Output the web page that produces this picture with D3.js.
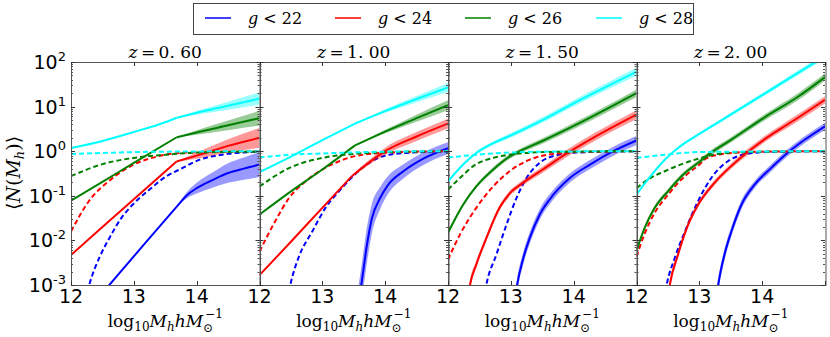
<!DOCTYPE html>
<html>
<head>
<meta charset="utf-8">
<script src="https://d3js.org/d3.v7.min.js"></script>
<style>
  body { margin: 0; background: #fff; }
  svg text { fill: #000; }
</style>
</head>
<body>
<div id="chart"></div>
<script>
// panels, magnitude cuts and colours
var redshifts = ["0. 60", "1. 00", "1. 50", "2. 00"];
var magCuts = [22, 24, 26, 28];
var colours = ["#0000ff", "#ff0000", "#008000", "#00ffff"];
var massTicks = [12, 13, 14];
var decades = [-3, -2, -1, 0, 1, 2];

// solid lines: total <N(M_h)>, rows of [log10 M_h, log10 N, band half width (dex), kink flag]
var total_z060 = [
  [[12.4,-3.35,0],[12.61,-3.0,0],[13.68,-1.25,0,1],[13.85,-0.98,0.07],[14.0,-0.83,0.12],[14.25,-0.65,0.17],[14.5,-0.49,0.22],[14.75,-0.39,0.25],[15.0,-0.30,0.28]],
  [[12.0,-2.33,0],[12.5,-1.70,0],[13.0,-1.08,0],[13.68,-0.23,0,1],[14.0,-0.10,0.07],[14.5,0.12,0.15],[15.0,0.30,0.22]],
  [[12.0,-1.11,0],[12.5,-0.69,0],[13.0,-0.26,0],[13.68,0.31,0,1],[14.0,0.42,0.05],[14.5,0.58,0.11],[15.0,0.74,0.165]],
  [[12.0,0.07,0],[12.5,0.23,0],[13.0,0.43,0],[13.5,0.65,0],[13.68,0.75,0,1],[14.0,0.86,0.04],[14.5,1.02,0.09],[15.0,1.18,0.135]]
];
var total_z100 = [
  [[13.55,-3.6,0.35],[13.62,-3.0,0.4],[13.71,-2.1,0.4],[13.79,-1.5,0.33],[13.92,-1.05,0.25],[14.05,-0.75,0.2],[14.29,-0.45,0.16],[14.63,-0.15,0.14],[15.0,0.07,0.13]],
  [[12.0,-2.78,0],[12.5,-2.03,0],[13.0,-1.27,0],[13.47,-0.56,0.02,1],[13.7,-0.30,0.05],[14.0,0.0,0.08],[14.5,0.33,0.1],[15.0,0.62,0.11]],
  [[12.0,-1.42,0],[12.5,-0.9,0],[13.0,-0.41,0],[13.52,0.13,0,1],[14.0,0.44,0.04],[14.5,0.74,0.08],[15.0,1.03,0.11]],
  [[12.0,-0.47,0],[12.5,-0.12,0],[13.0,0.25,0],[13.52,0.62,0,1],[14.0,0.9,0.04],[14.5,1.17,0.07],[15.0,1.43,0.1]]
];
var total_z150 = [
  [[13.05,-3.5,0.15],[13.1,-3.0,0.15],[13.2,-2.39,0.14],[13.3,-1.95,0.13],[13.46,-1.42,0.12],[13.68,-0.97,0.11],[13.94,-0.6,0.1],[14.26,-0.3,0.1],[14.63,0.0,0.1],[15.0,0.24,0.1]],
  [[12.3,-3.5,0.1],[12.35,-3.0,0.1],[12.45,-2.54,0.08],[12.61,-1.95,0.07],[12.82,-1.27,0.06],[13.01,-0.9,0.06,1],[13.2,-0.7,0.06],[13.52,-0.4,0.07],[13.89,-0.05,0.08],[14.31,0.3,0.09],[15.0,0.82,0.1]],
  [[12.0,-1.83,0.04],[12.24,-1.2,0.04],[12.45,-0.79,0.04],[12.72,-0.41,0.05],[12.98,-0.12,0.05],[13.14,0.0,0.05],[13.52,0.24,0.06],[14.05,0.6,0.07],[15.0,1.3,0.085]],
  [[12.0,-0.68,0.03],[12.24,-0.3,0.03],[12.45,-0.04,0.04],[12.72,0.18,0.04],[12.96,0.33,0.05],[13.52,0.71,0.06],[14.05,1.11,0.07],[15.0,1.78,0.09]]
];
var total_z200 = [
  [[13.25,-3.5,0.15],[13.3,-3.0,0.15],[13.4,-2.32,0.13],[13.51,-1.8,0.11],[13.67,-1.2,0.1],[13.88,-0.75,0.08],[14.14,-0.38,0.08],[14.41,-0.03,0.08],[14.67,0.25,0.08],[15.0,0.56,0.08]],
  [[12.48,-3.5,0.1],[12.53,-3.0,0.1],[12.66,-2.32,0.08],[12.82,-1.65,0.07],[12.98,-1.2,0.06],[13.24,-0.71,0.06],[13.51,-0.33,0.06],[13.75,-0.04,0.07],[14.04,0.27,0.07],[14.57,0.75,0.08],[15.0,1.15,0.08]],
  [[12.0,-2.23,0.05],[12.13,-1.72,0.05],[12.29,-1.27,0.05],[12.5,-0.9,0.05],[12.77,-0.49,0.05],[12.98,-0.26,0.05],[13.16,-0.06,0.06],[13.51,0.26,0.06],[14.04,0.76,0.07],[14.57,1.22,0.08],[15.0,1.66,0.08]],
  [[12.0,-0.97,0.02],[12.24,-0.53,0.02],[12.45,-0.19,0.02],[12.66,0.07,0.03],[12.98,0.37,0.03],[13.51,0.83,0.04],[14.3,1.52,0.05],[15.0,2.13,0.06]]
];

// dashed lines: central galaxies, rows of [log10 M_h, log10 N]
var central_z060 = [
  [[12.2,-3.5],[12.3,-2.95],[12.45,-2.39],[12.61,-1.95],[12.8,-1.5],[12.98,-1.2],[13.25,-0.86],[13.52,-0.56],[13.73,-0.41],[14.05,-0.19],[14.5,-0.06],[15.0,-0.01]],
  [[12.0,-1.8],[12.3,-1.09],[12.62,-0.65],[12.98,-0.31],[13.37,-0.12],[13.84,-0.03],[14.5,-0.01],[15.0,0.0]],
  [[12.0,-0.56],[12.5,-0.29],[13.0,-0.15],[13.5,-0.08],[14.0,-0.03],[15.0,-0.01]],
  [[12.0,-0.06],[12.5,-0.04],[13.0,-0.02],[14.0,-0.005],[15.0,0.0]]
];
var central_z100 = [
  [[12.42,-3.5],[12.49,-3.0],[12.62,-2.39],[12.84,-1.8],[13.05,-1.27],[13.31,-0.83],[13.63,-0.38],[13.89,-0.15],[14.16,-0.06],[14.6,-0.02],[15.0,-0.01]],
  [[12.0,-2.25],[12.25,-1.57],[12.47,-1.05],[12.73,-0.68],[13.0,-0.41],[13.26,-0.23],[13.52,-0.11],[14.05,-0.03],[15.0,0.0]],
  [[12.0,-0.79],[12.47,-0.38],[13.0,-0.15],[13.52,-0.06],[14.05,-0.02],[15.0,0.0]],
  [[12.0,-0.14],[12.5,-0.08],[13.0,-0.05],[14.0,-0.01],[15.0,0.0]]
];
var central_z150 = [
  [[12.55,-3.5],[12.61,-3.0],[12.77,-2.32],[12.93,-1.65],[13.09,-1.05],[13.25,-0.6],[13.46,-0.26],[13.73,-0.09],[14.05,-0.03],[15.0,0.0]],
  [[12.0,-2.43],[12.19,-1.87],[12.45,-1.27],[12.72,-0.79],[12.98,-0.45],[13.3,-0.19],[13.68,-0.06],[14.05,-0.02],[15.0,0.0]],
  [[12.0,-0.86],[12.19,-0.6],[12.45,-0.29],[12.72,-0.15],[13.09,-0.06],[13.5,-0.02],[15.0,0.0]],
  [[12.0,-0.14],[12.45,-0.08],[12.98,-0.03],[13.5,-0.01],[15.0,0.0]]
];
var central_z200 = [
  [[12.42,-3.5],[12.48,-3.0],[12.61,-2.39],[12.77,-1.8],[12.98,-1.12],[13.19,-0.6],[13.46,-0.22],[13.72,-0.07],[14.05,-0.02],[15.0,0.0]],
  [[12.0,-2.36],[12.13,-1.85],[12.29,-1.38],[12.5,-0.98],[12.77,-0.56],[12.9,-0.41],[12.98,-0.33],[13.1,-0.17],[13.3,-0.08],[13.6,-0.03],[14.0,-0.01],[15.0,0.0]],
  [[12.0,-0.83],[12.2,-0.62],[12.45,-0.45],[12.7,-0.3],[12.98,-0.17],[13.3,-0.06],[13.7,-0.02],[15.0,0.0]],
  [[12.0,-0.15],[12.45,-0.08],[12.98,-0.02],[15.0,0.0]]
];

var totals = [total_z060, total_z100, total_z150, total_z200];
var centrals = [central_z060, central_z100, central_z150, central_z200];

var width = 830;
var height = 337;
var plotLeft = 71, plotTop = 62, plotBottom = 285;
var panelWidth = 188.5;

// split a series into smooth pieces at flagged kinks
function pieces(rows) {
  var out = [[]];
  rows.forEach(function(r) {
    out[out.length - 1].push(r);
    if (r[3]) out.push([r]);
  });
  return out;
}

var svg = d3.select("#chart")
  .append("svg")
  .attr("width", width)
  .attr("height", height);

var y = d3.scaleLog().domain([1e-3, 1e2]).range([plotBottom, plotTop]);

// legend
var legend = svg.append("g");
legend.append("rect")
  .attr("x", 193.5).attr("y", 3.5)
  .attr("width", 500).attr("height", 31)
  .attr("fill", "#fff")
  .attr("stroke", "#444");
var legendX = [205, 335, 465, 596];
magCuts.forEach(function(m, i) {
  legend.append("line")
    .attr("x1", legendX[i]).attr("x2", legendX[i] + 26)
    .attr("y1", 18).attr("y2", 18)
    .attr("stroke", colours[i])
    .attr("stroke-width", 1.5);
  var t = legend.append("text")
    .attr("x", legendX[i] + 43).attr("y", 24)
    .style("font-family", "DejaVu Serif")
    .style("font-size", "16px");
  t.append("tspan").style("font-style", "italic").text("g");
  t.append("tspan").text(" < " + m);
});

redshifts.forEach(function(zLabel, p) {
  var x0 = plotLeft + p * panelWidth;
  var x = d3.scaleLinear().domain([12, 15]).range([x0, x0 + panelWidth]);
  var g = svg.append("g");

  var clipId = "clip" + p;
  svg.append("clipPath").attr("id", clipId)
    .append("rect")
    .attr("x", x0).attr("y", plotTop)
    .attr("width", panelWidth).attr("height", plotBottom - plotTop);

  var plot = g.append("g").attr("clip-path", "url(#" + clipId + ")");

  var line = d3.line()
    .x(function(d) { return x(d[0]); })
    .y(function(d) { return y(Math.pow(10, d[1])); })
    .curve(d3.curveMonotoneX);

  var band = d3.area()
    .x(function(d) { return x(d[0]); })
    .y0(function(d) { return y(Math.pow(10, d[1] - d[2])); })
    .y1(function(d) { return y(Math.pow(10, d[1] + d[2])); })
    .curve(d3.curveMonotoneX);

  magCuts.forEach(function(m, i) {
    var parts = pieces(totals[p][i]);
    parts.forEach(function(part) {
      plot.append("path")
        .attr("d", band(part))
        .attr("fill", colours[i])
        .attr("fill-opacity", 0.4)
        .attr("stroke", "none");
    });
    parts.forEach(function(part) {
      plot.append("path")
        .attr("d", line(part))
        .attr("fill", "none")
        .attr("stroke", colours[i])
        .attr("stroke-width", 2)
        .attr("stroke-linejoin", "round");
    });
    plot.append("path")
      .attr("d", line(centrals[p][i]))
      .attr("fill", "none")
      .attr("stroke", colours[i])
      .attr("stroke-width", 2)
      .attr("stroke-dasharray", "5,3");
  });

  // frame
  g.append("rect")
    .attr("x", Math.round(x0) + 0.5).attr("y", plotTop + 0.5)
    .attr("width", panelWidth).attr("height", plotBottom - plotTop)
    .attr("fill", "none")
    .attr("stroke", "#555")
    .attr("stroke-width", 1);

  // x ticks (top and bottom, inside)
  [12, 13, 14, 15].forEach(function(v) {
    var px = Math.round(x(v)) + 0.5;
    g.append("line").attr("x1", px).attr("x2", px).attr("y1", plotBottom).attr("y2", plotBottom - 4).attr("stroke", "#333");
    g.append("line").attr("x1", px).attr("x2", px).attr("y1", plotTop).attr("y2", plotTop + 4).attr("stroke", "#333");
  });
  massTicks.forEach(function(v) {
    g.append("text")
      .attr("x", x(v)).attr("y", plotBottom + 18)
      .attr("text-anchor", "middle")
      .style("font-family", "DejaVu Sans")
      .style("font-size", "19px")
      .text(v);
  });

  // y ticks, major and minor, on both sides
  var yMinor = [];
  decades.slice(0, -1).forEach(function(e) {
    for (var k = 2; k <= 9; k++) yMinor.push(k * Math.pow(10, e));
  });
  decades.forEach(function(e) {
    var py = Math.round(y(Math.pow(10, e))) + 0.5;
    g.append("line").attr("x1", x0).attr("x2", x0 + 4).attr("y1", py).attr("y2", py).attr("stroke", "#333");
    g.append("line").attr("x1", x0 + panelWidth).attr("x2", x0 + panelWidth - 4).attr("y1", py).attr("y2", py).attr("stroke", "#333");
  });
  yMinor.forEach(function(v) {
    var py = Math.round(y(v)) + 0.5;
    g.append("line").attr("x1", x0).attr("x2", x0 + 2).attr("y1", py).attr("y2", py).attr("stroke", "#555");
    g.append("line").attr("x1", x0 + panelWidth).attr("x2", x0 + panelWidth - 2).attr("y1", py).attr("y2", py).attr("stroke", "#555");
  });

  // title
  var title = g.append("text")
    .attr("x", x0 + panelWidth / 2).attr("y", 58)
    .attr("text-anchor", "middle")
    .style("font-family", "DejaVu Serif")
    .style("font-size", "17px");
  title.append("tspan").style("font-style", "italic").text("z");
  title.append("tspan").text("\u2009=\u2009" + zLabel);

  // x label
  var xl = g.append("text")
    .attr("x", x0 + panelWidth / 2).attr("y", 327)
    .attr("text-anchor", "middle")
    .style("font-family", "DejaVu Serif")
    .style("font-size", "17px");
  xl.append("tspan").text("log");
  xl.append("tspan").attr("dy", 4).style("font-size", "12px").text("10");
  xl.append("tspan").attr("dy", -4).style("font-style", "italic").text("M");
  xl.append("tspan").attr("dy", 4).style("font-size", "12px").style("font-style", "italic").text("h");
  xl.append("tspan").attr("dy", -4).style("font-style", "italic").text("hM");
  xl.append("tspan").attr("dy", 5).style("font-size", "12px").text("\u2299");
  xl.append("tspan").attr("dx", -8).attr("dy", -14).style("font-size", "12px").text("\u22121");
});

// y tick labels
decades.forEach(function(e) {
  var py = y(Math.pow(10, e));
  var t = svg.append("text")
    .attr("x", 66).attr("y", py + 7)
    .attr("text-anchor", "end")
    .style("font-family", "DejaVu Sans")
    .style("font-size", "19px");
  t.append("tspan").text("10");
  t.append("tspan").attr("dy", -8).style("font-size", "13px").text(e);
});

// y label
var yl = svg.append("text")
  .attr("transform", "translate(20,173) rotate(-90)")
  .attr("text-anchor", "middle")
  .style("font-family", "DejaVu Serif")
  .style("font-size", "19px");
yl.append("tspan").text("\u27e8");
yl.append("tspan").style("font-style", "italic").text("N");
yl.append("tspan").text("(");
yl.append("tspan").style("font-style", "italic").text("M");
yl.append("tspan").attr("dy", 4).style("font-size", "13px").style("font-style", "italic").text("h");
yl.append("tspan").attr("dy", -4).text(")\u27e9");
</script>
</body>
</html>
